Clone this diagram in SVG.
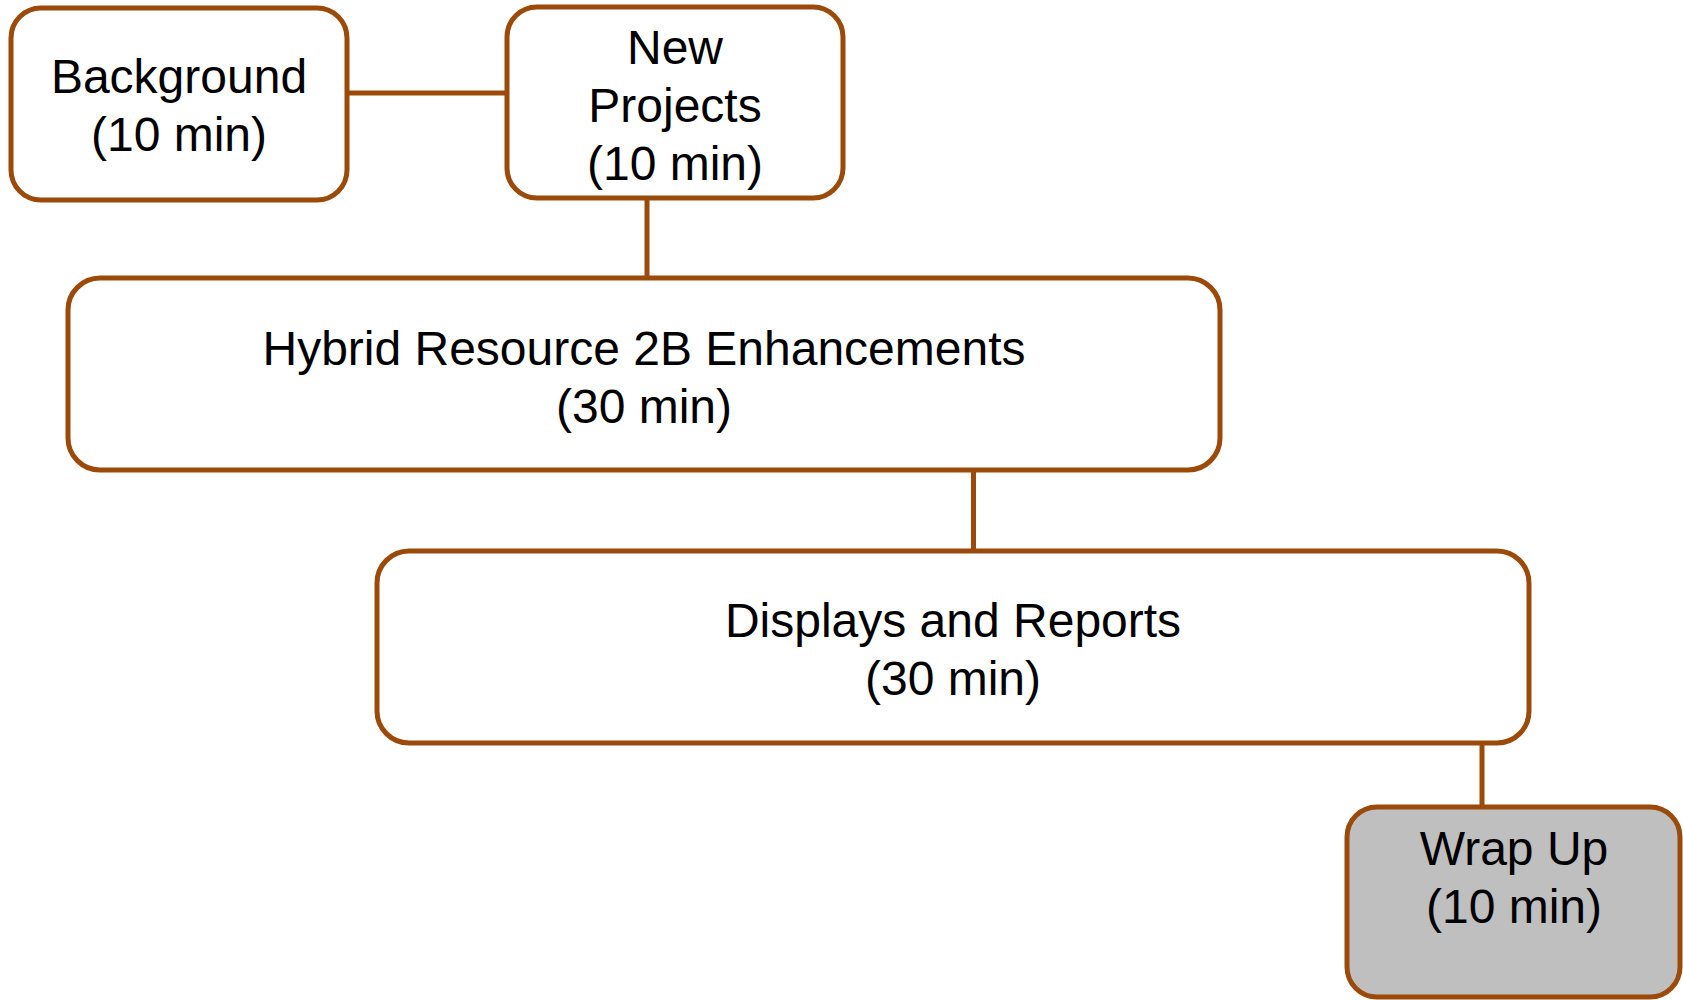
<svg xmlns="http://www.w3.org/2000/svg" width="1683" height="1000" viewBox="0 0 1683 1000">
<style>
.box{fill:#ffffff;stroke:#9C4A0A;stroke-width:5}
.gray{fill:#BFBFBF}
.conn{stroke:#9C4A0A;stroke-width:5;fill:none}
text{font-family:"Liberation Sans",Arial,sans-serif;font-size:48px;fill:#000;text-anchor:middle}
</style>
<rect width="1683" height="1000" fill="#ffffff"/>
<g id="connectors">
<line class="conn" x1="347" y1="93" x2="507" y2="93"/>
<line class="conn" x1="647" y1="198" x2="647" y2="278"/>
<line class="conn" x1="973.5" y1="470" x2="973.5" y2="551"/>
<line class="conn" x1="1482" y1="743" x2="1482" y2="807"/>
</g>
<g id="background">
<rect class="box" x="11" y="8" width="336" height="192" rx="30"/>
<text x="179" y="93">Background</text>
<text x="179" y="151">(10 min)</text>
</g>
<g id="new-projects">
<rect class="box" x="507" y="7" width="336" height="191" rx="30"/>
<text x="675" y="64">New</text>
<text x="675" y="122">Projects</text>
<text x="675" y="180">(10 min)</text>
</g>
<g id="hybrid">
<rect class="box" x="68" y="278" width="1152" height="192" rx="32"/>
<text x="644" y="365">Hybrid Resource 2B Enhancements</text>
<text x="644" y="423">(30 min)</text>
</g>
<g id="displays">
<rect class="box" x="377" y="551" width="1152" height="192" rx="32"/>
<text x="953" y="637">Displays and Reports</text>
<text x="953" y="695">(30 min)</text>
</g>
<g id="wrap-up">
<rect class="box gray" x="1347" y="807" width="333" height="190" rx="30"/>
<text x="1514" y="865">Wrap Up</text>
<text x="1514" y="923">(10 min)</text>
</g>
</svg>
